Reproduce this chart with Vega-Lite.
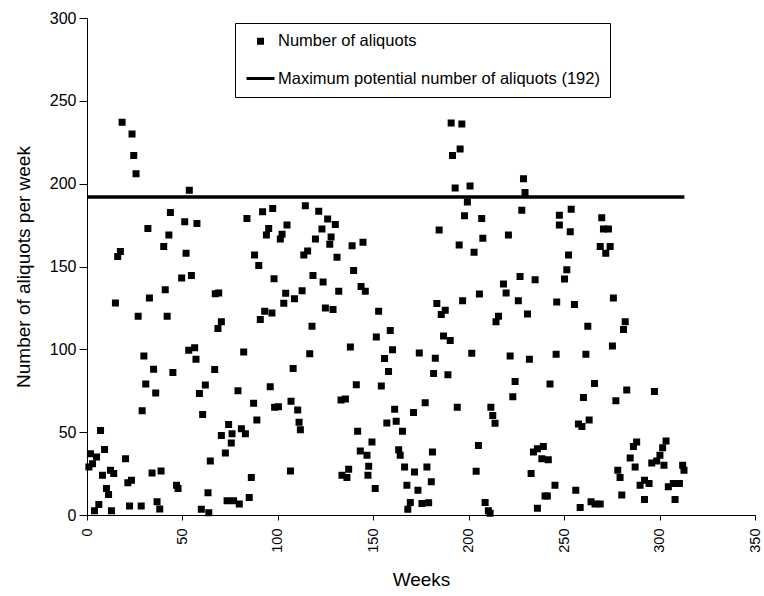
{
  "$schema": "https://vega.github.io/schema/vega-lite/v6.json",
  "width": 668,
  "height": 497,
  "autosize": "none",
  "padding": {"left": 87, "top": 18, "right": 9, "bottom": 81},
  "background": "white",
  "config": {
    "view": {"stroke": null},
    "font": "Liberation Sans",
    "axis": {"grid": false, "domainColor": "black", "tickColor": "black", "labelColor": "black", "titleColor": "black", "labelFont": "Liberation Sans", "titleFont": "Liberation Sans", "titleFontWeight": "normal"}
  },
  "layer": [
    {
      "data": {"values": [{"start": 0, "end": 313, "max": 192}]},
      "mark": {"type": "rule", "color": "black", "strokeWidth": 3.5},
      "encoding": {
        "x": {"field": "start", "type": "quantitative"},
        "x2": {"field": "end"},
        "y": {"field": "max", "type": "quantitative"}
      }
    },
    {
      "data": {"values": [
        {"week": 1.0, "n": 29}, {"week": 1.8, "n": 37}, {"week": 2.9, "n": 31}, {"week": 3.9, "n": 2.6}, {"week": 5.0, "n": 35},
        {"week": 6.2, "n": 6.4}, {"week": 7.1, "n": 51}, {"week": 8.1, "n": 24}, {"week": 9.2, "n": 39.6}, {"week": 10.2, "n": 16},
        {"week": 11.3, "n": 12.4}, {"week": 12.3, "n": 27}, {"week": 12.8, "n": 2.6}, {"week": 14.0, "n": 25}, {"week": 14.9, "n": 128},
        {"week": 16.1, "n": 156}, {"week": 17.5, "n": 159}, {"week": 18.4, "n": 237}, {"week": 20.2, "n": 34}, {"week": 21.4, "n": 19.4},
        {"week": 22.3, "n": 5.4}, {"week": 23.3, "n": 21}, {"week": 23.6, "n": 230}, {"week": 24.5, "n": 217}, {"week": 25.7, "n": 206},
        {"week": 26.8, "n": 120}, {"week": 28.4, "n": 5.4}, {"week": 28.9, "n": 63}, {"week": 29.8, "n": 96}, {"week": 30.8, "n": 79},
        {"week": 31.9, "n": 173}, {"week": 32.7, "n": 131}, {"week": 34.1, "n": 25.4}, {"week": 34.9, "n": 88}, {"week": 36.0, "n": 73.6},
        {"week": 36.7, "n": 8}, {"week": 38.1, "n": 3.6}, {"week": 38.8, "n": 26.6}, {"week": 40.2, "n": 162}, {"week": 41.0, "n": 136},
        {"week": 42.0, "n": 120}, {"week": 42.9, "n": 169}, {"week": 43.7, "n": 182.6}, {"week": 45.0, "n": 86}, {"week": 46.9, "n": 18},
        {"week": 47.7, "n": 16}, {"week": 49.6, "n": 143},
        {"week": 51.2, "n": 177}, {"week": 51.9, "n": 158}, {"week": 53.3, "n": 99.4}, {"week": 53.6, "n": 196}, {"week": 54.7, "n": 144.6},
        {"week": 56.4, "n": 101}, {"week": 57.1, "n": 94}, {"week": 57.6, "n": 176}, {"week": 58.9, "n": 73.4}, {"week": 59.9, "n": 3.4},
        {"week": 60.6, "n": 60.6}, {"week": 62.0, "n": 78.4}, {"week": 63.4, "n": 13.4}, {"week": 63.8, "n": 1.4}, {"week": 64.6, "n": 32.6},
        {"week": 66.9, "n": 87.8}, {"week": 67.2, "n": 133.6}, {"week": 69.0, "n": 134}, {"week": 68.6, "n": 112.6}, {"week": 70.4, "n": 116.6},
        {"week": 70.4, "n": 48}, {"week": 72.5, "n": 37.4}, {"week": 73.4, "n": 8.6}, {"week": 74.2, "n": 54.6}, {"week": 75.6, "n": 43.4},
        {"week": 76.0, "n": 49}, {"week": 76.8, "n": 8.6}, {"week": 79.1, "n": 75}, {"week": 79.8, "n": 6.6}, {"week": 80.9, "n": 52},
        {"week": 82.1, "n": 98.4}, {"week": 83.0, "n": 49}, {"week": 83.8, "n": 179}, {"week": 85.0, "n": 10.6}, {"week": 86.1, "n": 22.6},
        {"week": 87.3, "n": 67.4}, {"week": 87.8, "n": 157}, {"week": 89.0, "n": 57.4}, {"week": 90.0, "n": 150.6}, {"week": 90.8, "n": 118},
        {"week": 92.0, "n": 183}, {"week": 93.1, "n": 123}, {"week": 94.0, "n": 169}, {"week": 95.2, "n": 173}, {"week": 96.0, "n": 77.4},
        {"week": 96.9, "n": 122}, {"week": 97.3, "n": 185}, {"week": 98.0, "n": 142.6}, {"week": 98.3, "n": 65},
        {"week": 100.3, "n": 65.4}, {"week": 101.3, "n": 166.6}, {"week": 102.2, "n": 169.4}, {"week": 103.1, "n": 127.8}, {"week": 104.1, "n": 133.8},
        {"week": 104.8, "n": 175}, {"week": 106.6, "n": 26.6}, {"week": 106.9, "n": 68.6}, {"week": 108.0, "n": 88.4}, {"week": 108.7, "n": 130.6},
        {"week": 110.4, "n": 63.4}, {"week": 111.1, "n": 56}, {"week": 111.8, "n": 51.4}, {"week": 112.7, "n": 135.4}, {"week": 113.6, "n": 157},
        {"week": 114.4, "n": 186.6}, {"week": 115.6, "n": 159.4}, {"week": 116.7, "n": 97.4}, {"week": 117.9, "n": 114}, {"week": 118.4, "n": 144.6},
        {"week": 119.7, "n": 166.6}, {"week": 121.4, "n": 183.4}, {"week": 123.1, "n": 172.6}, {"week": 123.7, "n": 140.6}, {"week": 124.9, "n": 125},
        {"week": 126.1, "n": 178.6}, {"week": 127.2, "n": 163.4}, {"week": 127.9, "n": 167.8}, {"week": 128.9, "n": 124}, {"week": 130.1, "n": 175.4},
        {"week": 131.0, "n": 155.6}, {"week": 131.9, "n": 135}, {"week": 133.1, "n": 69.4}, {"week": 133.6, "n": 24}, {"week": 135.4, "n": 70},
        {"week": 136.2, "n": 22.6}, {"week": 137.1, "n": 27.6}, {"week": 138.0, "n": 101.4}, {"week": 138.9, "n": 162.6}, {"week": 139.7, "n": 147.6},
        {"week": 141.1, "n": 78.6}, {"week": 141.8, "n": 50.6}, {"week": 143.2, "n": 38.6}, {"week": 143.6, "n": 138}, {"week": 144.6, "n": 164.6},
        {"week": 145.8, "n": 135}, {"week": 146.7, "n": 36}, {"week": 147.2, "n": 24}, {"week": 147.6, "n": 29.4}, {"week": 149.3, "n": 44},
        {"week": 151.0, "n": 16}, {"week": 151.6, "n": 107.4}, {"week": 152.8, "n": 123}, {"week": 154.2, "n": 77.8}, {"week": 155.9, "n": 94.4},
        {"week": 157.1, "n": 55.6}, {"week": 158.0, "n": 86.6}, {"week": 158.9, "n": 111.4}, {"week": 160.1, "n": 99.8}, {"week": 161.2, "n": 63.8},
        {"week": 162.0, "n": 56.6}, {"week": 163.3, "n": 39.4}, {"week": 164.1, "n": 36}, {"week": 165.3, "n": 50.6}, {"week": 166.4, "n": 29},
        {"week": 167.6, "n": 18}, {"week": 168.1, "n": 3.4}, {"week": 169.4, "n": 7.6}, {"week": 171.1, "n": 61.8}, {"week": 171.6, "n": 26},
        {"week": 173.4, "n": 15}, {"week": 174.1, "n": 97.8}, {"week": 175.5, "n": 7}, {"week": 177.2, "n": 67.8}, {"week": 178.1, "n": 29},
        {"week": 179.0, "n": 7.4}, {"week": 180.4, "n": 20}, {"week": 181.0, "n": 38}, {"week": 181.6, "n": 85.4}, {"week": 182.5, "n": 94.6},
        {"week": 183.3, "n": 127.6}, {"week": 184.5, "n": 172}, {"week": 185.6, "n": 121}, {"week": 186.8, "n": 108}, {"week": 187.7, "n": 123.6},
        {"week": 189.1, "n": 84.6}, {"week": 190.3, "n": 105.4}, {"week": 190.8, "n": 236.6}, {"week": 191.5, "n": 217}, {"week": 192.9, "n": 197.4},
        {"week": 194.0, "n": 65}, {"week": 195.0, "n": 163}, {"week": 195.5, "n": 221}, {"week": 196.4, "n": 236}, {"week": 196.8, "n": 129.4},
        {"week": 197.8, "n": 180.6},
        {"week": 199.3, "n": 189}, {"week": 200.7, "n": 198.6}, {"week": 201.6, "n": 97.6}, {"week": 202.8, "n": 158.6}, {"week": 203.9, "n": 26.4},
        {"week": 205.1, "n": 42}, {"week": 205.6, "n": 133.4}, {"week": 206.8, "n": 179}, {"week": 207.4, "n": 167}, {"week": 208.6, "n": 7.6},
        {"week": 210.3, "n": 2.6}, {"week": 211.2, "n": 1}, {"week": 211.6, "n": 65}, {"week": 212.6, "n": 60}, {"week": 213.8, "n": 55.4},
        {"week": 214.3, "n": 116.6}, {"week": 215.6, "n": 120}, {"week": 218.2, "n": 139.4}, {"week": 219.6, "n": 134}, {"week": 220.8, "n": 169},
        {"week": 221.7, "n": 96}, {"week": 223.1, "n": 71.4}, {"week": 224.3, "n": 80.6}, {"week": 226.0, "n": 129.4}, {"week": 226.9, "n": 144},
        {"week": 227.8, "n": 184}, {"week": 228.7, "n": 203}, {"week": 229.5, "n": 194.6}, {"week": 230.8, "n": 121.4}, {"week": 231.8, "n": 94},
        {"week": 232.7, "n": 25}, {"week": 233.9, "n": 38}, {"week": 234.8, "n": 142}, {"week": 236.0, "n": 40}, {"week": 236.0, "n": 4},
        {"week": 238.3, "n": 34}, {"week": 239.1, "n": 41.4}, {"week": 240.0, "n": 11.4}, {"week": 241.2, "n": 11.4}, {"week": 241.7, "n": 33.4},
        {"week": 242.6, "n": 79}, {"week": 245.2, "n": 18}, {"week": 245.8, "n": 97}, {"week": 246.1, "n": 128.6}, {"week": 247.5, "n": 181},
        {"week": 247.5, "n": 175},
        {"week": 250.2, "n": 142.4}, {"week": 251.4, "n": 148}, {"week": 252.3, "n": 157}, {"week": 253.2, "n": 171}, {"week": 253.7, "n": 184.6},
        {"week": 255.4, "n": 127}, {"week": 256.1, "n": 15}, {"week": 257.5, "n": 55}, {"week": 258.4, "n": 4.6}, {"week": 259.3, "n": 53.4},
        {"week": 260.1, "n": 71}, {"week": 261.4, "n": 97}, {"week": 262.4, "n": 114}, {"week": 263.1, "n": 57.4}, {"week": 264.1, "n": 8},
        {"week": 265.9, "n": 79.4}, {"week": 266.2, "n": 6.6}, {"week": 268.9, "n": 6.6}, {"week": 268.9, "n": 162}, {"week": 269.7, "n": 179.4},
        {"week": 270.6, "n": 172.6}, {"week": 271.8, "n": 158}, {"week": 273.2, "n": 172.6}, {"week": 274.1, "n": 162}, {"week": 275.3, "n": 102},
        {"week": 275.8, "n": 131}, {"week": 277.1, "n": 69}, {"week": 278.1, "n": 27}, {"week": 279.3, "n": 22.6}, {"week": 280.2, "n": 12},
        {"week": 281.1, "n": 112}, {"week": 282.0, "n": 116.6}, {"week": 282.8, "n": 75.4}, {"week": 284.6, "n": 34.4}, {"week": 286.3, "n": 41.4},
        {"week": 287.2, "n": 29}, {"week": 288.0, "n": 44}, {"week": 289.8, "n": 18}, {"week": 292.1, "n": 21}, {"week": 292.1, "n": 9.4},
        {"week": 294.5, "n": 19}, {"week": 295.9, "n": 31.4}, {"week": 297.3, "n": 74.6},
        {"week": 298.5, "n": 32.6}, {"week": 300.2, "n": 36}, {"week": 301.6, "n": 40.6}, {"week": 302.3, "n": 30}, {"week": 303.4, "n": 44.6},
        {"week": 304.6, "n": 17}, {"week": 307.2, "n": 19}, {"week": 308.1, "n": 9.4}, {"week": 310.4, "n": 19}, {"week": 312.1, "n": 30},
        {"week": 312.8, "n": 27}
      ]},
      "mark": {"type": "point", "filled": true, "color": "black", "fill": "black", "stroke": "black", "strokeWidth": 3, "opacity": 1},
      "encoding": {
        "x": {
          "field": "week", "type": "quantitative",
          "scale": {"domain": [0, 350], "nice": false, "zero": true},
          "axis": {"title": "Weeks", "values": [0, 50, 100, 150, 200, 250, 300, 350], "labelAngle": -90, "labelFontSize": 14.5, "titleFontSize": 19, "tickSize": 5, "labelPadding": 8, "titlePadding": 18, "labelFlush": false, "labelOverlap": false}
        },
        "y": {
          "field": "n", "type": "quantitative",
          "scale": {"domain": [0, 300], "nice": false},
          "axis": {"title": "Number of aliquots per week", "values": [0, 50, 100, 150, 200, 250, 300], "labelFontSize": 16, "titleFontSize": 19, "tickSize": 8, "labelPadding": 3, "titlePadding": 16}
        },
        "size": {
          "datum": "Number of aliquots",
          "type": "ordinal",
          "scale": {"domain": ["Number of aliquots", "Maximum potential number of aliquots (192)"], "range": [16, 784]},
          "legend": {"title": null}
        },
        "shape": {
          "datum": "Number of aliquots",
          "type": "ordinal",
          "scale": {"domain": ["Number of aliquots", "Maximum potential number of aliquots (192)"], "range": ["square", "stroke"]},
          "legend": {
            "title": null,
            "orient": "none",
            "legendX": 148,
            "legendY": 5,
            "padding": 10,
            "strokeColor": "black",
            "fillColor": "white",
            "symbolFillColor": "black",
            "symbolStrokeColor": "black",
            "symbolStrokeWidth": 3,
            "labelFont": "Liberation Sans",
            "labelFontSize": 16.5,
            "labelColor": "black",
            "labelOffset": 2,
            "rowPadding": 13,
            "labelLimit": 600
          }
        }
      }
    }
  ]
}
